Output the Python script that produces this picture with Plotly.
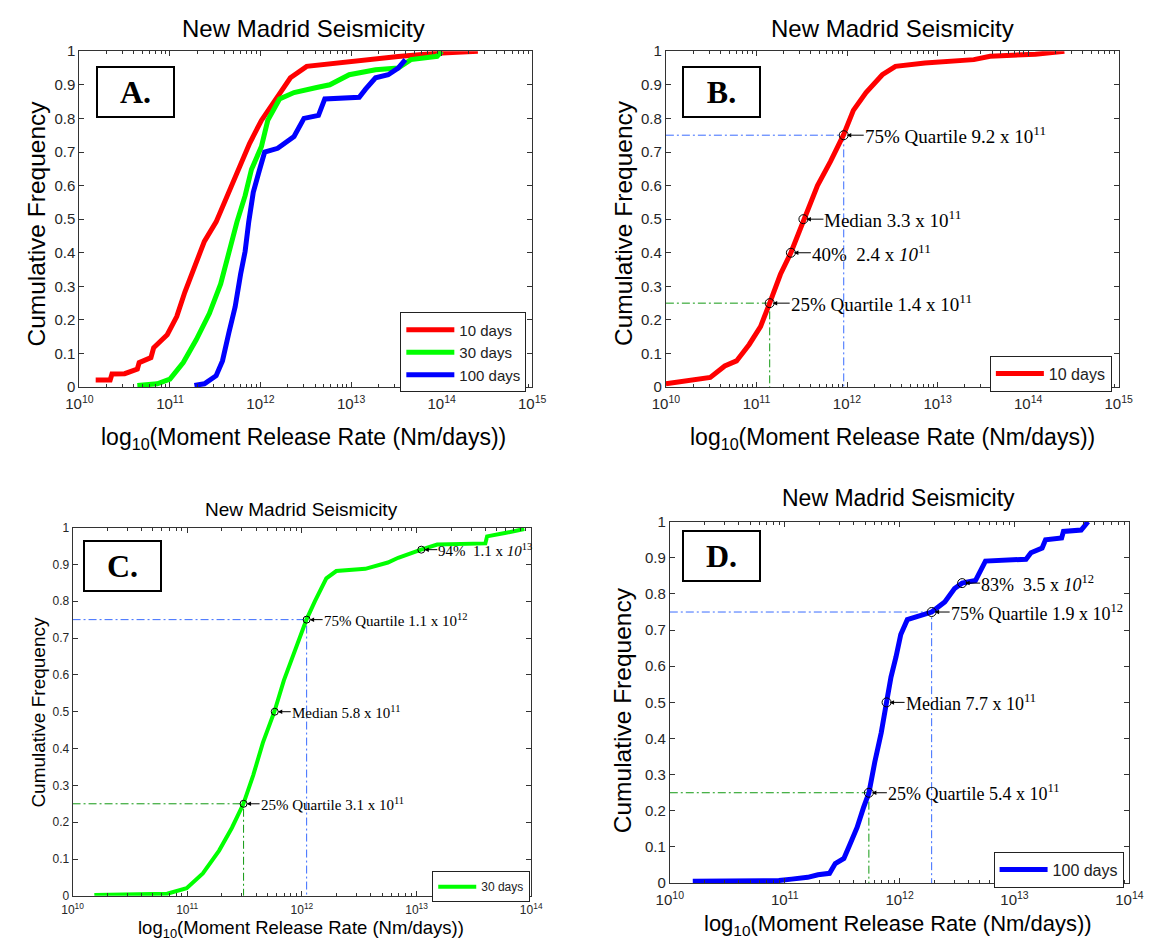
import numpy as np
import plotly.graph_objects as go

W, H = 1161, 951
SANS = "Liberation Sans, Arial, sans-serif"
SERIF = "Liberation Serif, Times New Roman, serif"

# ---------------- DATA (x given as log10 of moment release rate) ----------------
# Panel A
a_red_logx = [10.18, 10.34, 10.36, 10.50, 10.64, 10.66, 10.79, 10.82, 10.97, 11.075, 11.165, 11.27,
              11.38, 11.51, 11.63, 11.76, 11.88, 12.01, 12.19, 12.33, 12.51, 12.98, 13.52, 13.95, 14.40]
a_red_y = [0.021, 0.021, 0.039, 0.040, 0.054, 0.073, 0.088, 0.117, 0.156, 0.21, 0.283, 0.356,
           0.434, 0.492, 0.57, 0.648, 0.726, 0.794, 0.867, 0.921, 0.955, 0.97, 0.984, 0.994, 1.0]
a_green_logx = [10.64, 10.86, 11.0, 11.147, 11.29, 11.435, 11.56, 11.65, 11.74, 11.83, 11.90, 12.01,
                12.08, 12.21, 12.37, 12.62, 12.765, 12.98, 13.27, 13.52, 13.66, 13.95, 14.0]
a_green_y = [0.005, 0.01, 0.024, 0.073, 0.141, 0.219, 0.307, 0.404, 0.492, 0.57, 0.648, 0.716,
             0.794, 0.858, 0.877, 0.892, 0.90, 0.93, 0.945, 0.95, 0.975, 0.985, 1.0]
a_blue_logx = [11.27, 11.38, 11.51, 11.58, 11.65, 11.72, 11.78, 11.83, 11.87, 11.92, 11.99, 12.046,
               12.19, 12.37, 12.48, 12.64, 12.71, 13.09, 13.16, 13.27, 13.41, 13.52, 13.60]
a_blue_y = [0.005, 0.01, 0.034, 0.078, 0.161, 0.239, 0.336, 0.404, 0.492, 0.58, 0.648, 0.70,
            0.711, 0.746, 0.80, 0.809, 0.858, 0.863, 0.887, 0.921, 0.93, 0.95, 0.975]

# Panel B (10 days)
b_red_logx = [10.0, 10.31, 10.49, 10.65, 10.78, 10.92, 11.045, 11.146, 11.265, 11.38, 11.52, 11.674,
              11.818, 11.96, 12.07, 12.21, 12.39, 12.535, 12.86, 13.40, 13.58, 14.08, 14.40]
b_red_y = [0.010, 0.02, 0.029, 0.063, 0.078, 0.127, 0.18, 0.25, 0.336, 0.40, 0.50, 0.60,
           0.672, 0.75, 0.824, 0.877, 0.93, 0.955, 0.965, 0.975, 0.985, 0.991, 1.0]
b_marks = [9.2e11, 3.3e11, 2.4e11, 1.4e11]
b_marks_y = [0.75, 0.50, 0.40, 0.25]
b_texts = ["75% Quartile 9.2 x 10<sup>11</sup>", "Median 3.3 x 10<sup>11</sup>",
           "40%  2.4 x <i>10</i><sup>11</sup>", "25% Quartile 1.4 x 10<sup>11</sup>"]

# Panel C (30 days)
c_green_logx = [10.19, 10.825, 10.995, 11.136, 11.278, 11.39, 11.49, 11.576, 11.66, 11.76, 11.843, 11.93,
                12.04, 12.114, 12.213, 12.30, 12.553, 12.75, 12.84, 13.04, 13.18, 13.60, 13.615, 13.77, 13.94]
c_green_y = [0.002, 0.006, 0.021, 0.061, 0.123, 0.185, 0.25, 0.328, 0.416, 0.50, 0.585, 0.656,
             0.75, 0.80, 0.862, 0.882, 0.888, 0.905, 0.918, 0.94, 0.954, 0.957, 0.976, 0.985, 0.996]
c_marks = [1.1e13, 1.1e12, 5.8e11, 3.1e11]
c_marks_y = [0.94, 0.75, 0.50, 0.25]
c_texts = ["94%  1.1 x <i>10</i><sup>13</sup>", "75% Quartile 1.1 x 10<sup>12</sup>",
           "Median 5.8 x 10<sup>11</sup>", "25% Quartile 3.1 x 10<sup>11</sup>"]

# Panel D (100 days)
d_blue_logx = [10.2, 10.95, 11.06, 11.20, 11.29, 11.39, 11.44, 11.515, 11.57, 11.63, 11.685, 11.733,
               11.784, 11.84, 11.886, 11.925, 11.968, 12.01, 12.067, 12.195, 12.279, 12.393, 12.478,
               12.544, 12.66, 12.747, 13.10, 13.143, 13.24, 13.27, 13.41, 13.426, 13.58, 13.64]
d_blue_y = [0.005, 0.007, 0.011, 0.016, 0.023, 0.027, 0.054, 0.068, 0.109, 0.154, 0.208, 0.25,
            0.335, 0.416, 0.50, 0.57, 0.625, 0.688, 0.729, 0.742, 0.75, 0.778, 0.815,
            0.83, 0.837, 0.891, 0.896, 0.914, 0.927, 0.95, 0.955, 0.973, 0.977, 1.0]
d_marks = [3.5e12, 1.9e12, 7.7e11, 5.4e11]
d_marks_y = [0.83, 0.75, 0.50, 0.25]
d_texts = ["83%  3.5 x <i>10</i><sup>12</sup>", "75% Quartile 1.9 x 10<sup>12</sup>",
           "Median 7.7 x 10<sup>11</sup>", "25% Quartile 5.4 x 10<sup>11</sup>"]

y_ticks = [0, 0.1, 0.2, 0.3, 0.4, 0.5, 0.6, 0.7, 0.8, 0.9, 1]
y_ticktext = ["0", "0.1", "0.2", "0.3", "0.4", "0.5", "0.6", "0.7", "0.8", "0.9", "1"]

RED, GREEN, BLUE = "#ff0000", "#00ff00", "#0000ff"
REF_BLUE, REF_GREEN = "#3a6cff", "#129912"

# ---------------- LAYOUT HELPERS ----------------
def fx(px):
    return px / W

def fy(py):
    return 1 - py / H

panels = {
    "A": dict(xa="x", ya="y", xd=(67, 531), yd=(43, 385), xr=(10, 15), xfs=15, yfs=15),
    "B": dict(xa="x2", ya="y2", xd=(668, 1132), yd=(43, 385), xr=(10, 15), xfs=15, yfs=15),
    "C": dict(xa="x3", ya="y3", xd=(60, 530), yd=(528, 903), xr=(10, 14), xfs=12, yfs=12),
    "D": dict(xa="x4", ya="y4", xd=(672, 1143), yd=(522, 890), xr=(10, 14), xfs=15, yfs=15),
}

fig = go.Figure()


def curve(logx, y, color, width, name, p, legend):
    fig.add_trace(go.Scatter(x=[10 ** v for v in logx], y=y, mode="lines", name=name,
                             line=dict(color=color, width=width),
                             xaxis=p["xa"], yaxis=p["ya"], legend=legend))


def ref(xv, yv, color, p):
    fig.add_trace(go.Scatter(x=[10 ** p["xr"][0], xv, xv], y=[yv, yv, 0], mode="lines",
                             line=dict(color=color, width=1, dash="8px,3px,2px,3px"),
                             xaxis=p["xa"], yaxis=p["ya"], showlegend=False, hoverinfo="skip"))


def marks(xs, ys, p, size):
    fig.add_trace(go.Scatter(x=xs, y=ys, mode="markers",
                             marker=dict(symbol="circle-open", size=size, color="black",
                                         line=dict(width=1, color="black")),
                             xaxis=p["xa"], yaxis=p["ya"], showlegend=False, hoverinfo="skip"))


pA, pB, pC, pD = panels["A"], panels["B"], panels["C"], panels["D"]

# Panel A
curve(a_red_logx, a_red_y, RED, 5, "10 days", pA, "legend")
curve(a_green_logx, a_green_y, GREEN, 5, "30 days", pA, "legend")
curve(a_blue_logx, a_blue_y, BLUE, 5, "100 days", pA, "legend")

# Panel B
ref(b_marks[0], b_marks_y[0], REF_BLUE, pB)
ref(b_marks[3], b_marks_y[3], REF_GREEN, pB)
curve(b_red_logx, b_red_y, RED, 5, "10 days", pB, "legend2")
marks(b_marks, b_marks_y, pB, 9)

# Panel C
ref(c_marks[1], c_marks_y[1], REF_BLUE, pC)
ref(c_marks[3], c_marks_y[3], REF_GREEN, pC)
curve(c_green_logx, c_green_y, GREEN, 4, "30 days", pC, "legend3")
marks(c_marks, c_marks_y, pC, 7)

# Panel D
ref(d_marks[1], d_marks_y[1], REF_BLUE, pD)
ref(d_marks[3], d_marks_y[3], REF_GREEN, pD)
curve(d_blue_logx, d_blue_y, BLUE, 5, "100 days", pD, "legend4")
marks(d_marks, d_marks_y, pD, 9)

# ---------------- AXES ----------------
layout = dict(width=W, height=H, margin=dict(l=0, r=0, t=0, b=0),
              paper_bgcolor="white", plot_bgcolor="white", showlegend=True)

for i, (key, p) in enumerate(panels.items()):
    suffix = "" if i == 0 else str(i + 1)
    lo, hi = p["xr"]
    majors = [10 ** n for n in range(lo, hi + 1)]
    minors = [k * 10 ** n for n in range(lo, hi) for k in range(2, 10)]
    layout["xaxis" + suffix] = dict(
        type="log", range=[lo, hi], domain=[fx(p["xd"][0]), fx(p["xd"][1])], anchor=p["ya"],
        tickmode="array", tickvals=majors, ticktext=[f"10<sup>{n}</sup>" for n in range(lo, hi + 1)],
        ticks="inside", ticklen=5, tickcolor="#333", showline=True, linecolor="#333", linewidth=1,
        mirror="ticks", showgrid=False, zeroline=False, ticklabelstandoff=3,
        tickfont=dict(family=SANS, size=p["xfs"], color="#262626"),
        minor=dict(tickmode="array", tickvals=minors, ticks="inside", ticklen=3, tickcolor="#333",
                   showgrid=False))
    layout["yaxis" + suffix] = dict(
        range=[0, 1], domain=[fy(p["yd"][1]), fy(p["yd"][0])], anchor=p["xa"],
        tickmode="array", tickvals=y_ticks, ticktext=y_ticktext,
        ticks="inside", ticklen=5, tickcolor="#333", showline=True, linecolor="#333", linewidth=1,
        mirror="ticks", showgrid=False, zeroline=False,
        tickfont=dict(family=SANS, size=p["yfs"], color="#262626"))

# ---------------- LEGENDS ----------------
def legend_cfg(xr_px, yt_px, size, iw):
    return dict(x=fx(xr_px), y=fy(yt_px), xanchor="right", yanchor="top",
                bgcolor="white", bordercolor="#222", borderwidth=1, itemwidth=iw,
                font=dict(family=SANS, size=size, color="#222"), tracegroupgap=0)

layout["legend"] = legend_cfg(525, 309, 15, 48)
layout["legend2"] = legend_cfg(1125, 353, 16, 48)
layout["legend3"] = legend_cfg(529, 878, 12, 38)
layout["legend4"] = legend_cfg(1137, 858, 16, 48)

# ---------------- ANNOTATIONS ----------------
ann = []

def text_at(px, py, text, size, angle=0):
    ann.append(dict(x=fx(px), y=fy(py), xref="paper", yref="paper", text=text, showarrow=False,
                    xanchor="center", yanchor="middle", textangle=angle,
                    font=dict(family=SANS, size=size, color="black")))

xlabel = "log<sub>10</sub>(Moment Release Rate (Nm/days))"
# titles
text_at(297, 20, "New Madrid Seismicity", 24)
text_at(900, 20, "New Madrid Seismicity", 24)
text_at(295, 510, "New Madrid Seismicity", 19)
text_at(906, 498, "New Madrid Seismicity", 23)
# x labels
text_at(297, 437, xlabel, 23)
text_at(900, 437, xlabel, 23)
text_at(294, 937, xlabel, 18.5)
text_at(906, 933, xlabel, 22)
# y labels
text_at(23, 218, "Cumulative Frequency", 24.5, -90)
text_at(624, 218, "Cumulative Frequency", 24.5, -90)
text_at(25, 716, "Cumulative Frequency", 19, -90)
text_at(623, 714, "Cumulative Frequency", 24.5, -90)

# panel letters
def letter(cx, cy, t):
    ann.append(dict(x=fx(cx), y=fy(cy), xref="paper", yref="paper", text=f"<b>{t}</b>", showarrow=False,
                    xanchor="center", yanchor="middle", width=75, height=48, borderpad=0,
                    bordercolor="black", borderwidth=2, bgcolor="white",
                    font=dict(family=SERIF, size=32, color="black")))

letter(124.5, 85, "A.")
letter(724.5, 85, "B.")
letter(111, 567, "C.")
letter(724.5, 557, "D.")

# arrow annotations
def arrows(xs, ys, texts, p, size, ax):
    for xv, yv, t in zip(xs, ys, texts):
        ann.append(dict(x=np.log10(xv), y=yv, xref=p["xa"], yref=p["ya"], text=t,
                        showarrow=True, arrowhead=2, arrowsize=0.9, arrowwidth=1, arrowcolor="black",
                        ax=ax, ay=0, xanchor="left", yanchor="middle", standoff=3, borderpad=0,
                        font=dict(family=SERIF, size=size, color="black")))

arrows(b_marks, b_marks_y, b_texts, pB, 19, 20)
arrows(c_marks, c_marks_y, c_texts, pC, 15, 16)
arrows(d_marks, d_marks_y, d_texts, pD, 18, 18)

layout["annotations"] = ann
fig.update_layout(**layout)
fig.write_html("out.html")
